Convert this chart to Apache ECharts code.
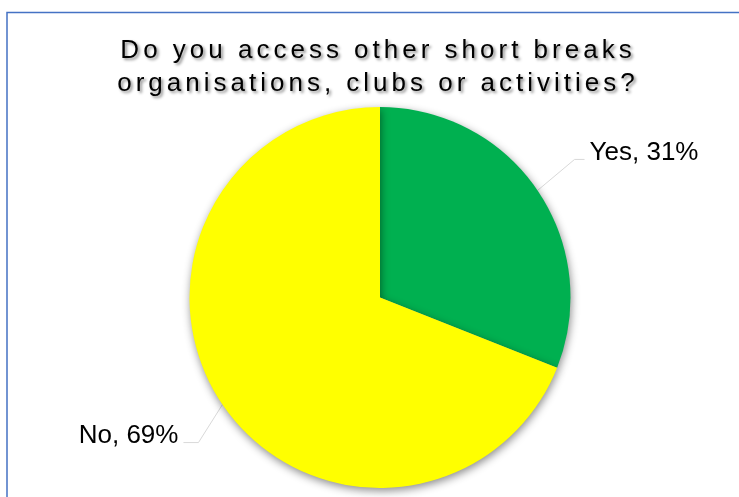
<!DOCTYPE html>
<html>
<head>
<meta charset="utf-8">
<script src="https://cdn.jsdelivr.net/npm/echarts@6/dist/echarts.min.js"></script>
<style>
  html, body { margin: 0; padding: 0; background: #ffffff; }
  #chart { width: 739px; height: 497px; }
</style>
</head>
<body>
<div id="chart"></div>
<script>
// Survey answers and their shares (percent)
const categories = ['Yes', 'No'];
const shares = [31, 69];
const sliceColors = ['#00B050', '#FFFF00'];
const titleLines = ['Do you access other short breaks', 'organisations, clubs or activities?'];

// Title lines are drawn with extra tracking; everything else keeps normal spacing.
const trackedText = new Set(titleLines);
const nativeFillText = CanvasRenderingContext2D.prototype.fillText;
CanvasRenderingContext2D.prototype.fillText = function (text) {
  const font = this.font;
  this.letterSpacing = trackedText.has(text) ? '4px' : '0px';
  // re-apply the font so the spacing change takes effect immediately
  this.font = '10px sans-serif';
  this.font = font;
  return nativeFillText.apply(this, arguments);
};

// Leader line shape per label: bend offset from the slice edge, then a short tail.
const leaders = [
  { bend: [37, -31], tail: 10, gap: 5, lift: 7 },
  { bend: [-24, 38], tail: 15, gap: 5, lift: 7 }
];

const chart = echarts.init(document.getElementById('chart'), null, { renderer: 'canvas' });

chart.setOption({
  animation: false,
  backgroundColor: '#ffffff',
  graphic: [
    {
      type: 'polyline',
      shape: { points: [[7, 497], [7, 12.5], [739, 12.5]] },
      style: { stroke: '#4472C4', lineWidth: 1.5, fill: null },
      silent: true
    },
    {
      type: 'text',
      x: 378,
      y: 34,
      silent: true,
      style: {
        text: titleLines.join('\n'),
        font: '26px "Liberation Sans", Arial, sans-serif',
        fill: '#000000',
        align: 'center',
        textAlign: 'center',
        verticalAlign: 'top',
        textVerticalAlign: 'top',
        lineHeight: 33,
        textShadowColor: 'rgba(0,0,0,0.45)',
        textShadowBlur: 3,
        textShadowOffsetX: 2,
        textShadowOffsetY: 2
      }
    }
  ],
  series: [
    {
      type: 'pie',
      center: [380, 297.5],
      radius: 190.5,
      startAngle: 90,
      clockwise: true,
      silent: true,
      emphasis: { disabled: true },
      itemStyle: {
        borderWidth: 0,
        shadowBlur: 9,
        shadowOffsetX: 1,
        shadowOffsetY: 3,
        shadowColor: 'rgba(0,0,0,0.45)'
      },
      label: {
        show: true,
        position: 'outside',
        formatter: '{b}, {c}%',
        fontSize: 26,
        fontFamily: '"Liberation Sans", Arial, sans-serif',
        color: '#000000'
      },
      labelLine: {
        show: true,
        length: 40,
        length2: 10,
        lineStyle: { color: '#d9d9d9', width: 1 }
      },
      labelLayout: function (params) {
        const lead = leaders[params.dataIndex];
        const pts = params.labelLinePoints;
        if (!lead || !pts) return {};
        const p0 = pts[0];
        const p1 = [p0[0] + lead.bend[0], p0[1] + lead.bend[1]];
        const dir = lead.bend[0] >= 0 ? 1 : -1;
        const p2 = [p1[0] + dir * lead.tail, p1[1]];
        return {
          x: p2[0] + dir * lead.gap,
          y: p2[1] - lead.lift,
          align: dir > 0 ? 'left' : 'right',
          verticalAlign: 'middle',
          labelLinePoints: [p0, p1, p2]
        };
      },
      data: categories.map(function (name, i) {
        return { name: name, value: shares[i], itemStyle: { color: sliceColors[i] } };
      })
    }
  ]
});
</script>
</body>
</html>
